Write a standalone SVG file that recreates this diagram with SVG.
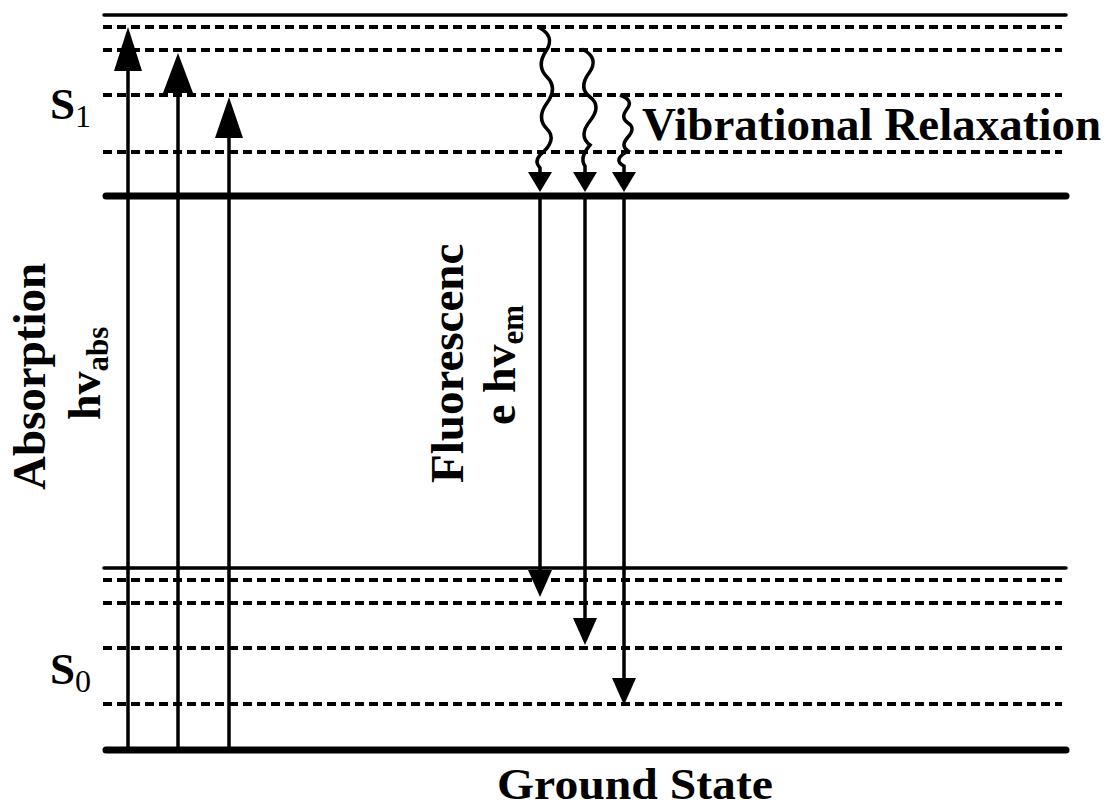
<svg xmlns="http://www.w3.org/2000/svg" width="1108" height="810" viewBox="0 0 1108 810">
<style>
.thin{stroke:#000;stroke-width:3.5;fill:none;stroke-linecap:round}
.thick{stroke:#000;stroke-width:7;fill:none;stroke-linecap:round}
.dash{stroke:#000;stroke-width:4;fill:none;stroke-dasharray:9 5}
.shaft{stroke:#000;stroke-width:3.5;fill:none}
.wave{stroke:#000;stroke-width:3.5;fill:none}
.head{fill:#000;stroke:none}
.lbl{font-family:"Liberation Serif","Times New Roman",serif;font-weight:bold;fill:#000}
.sub{font-family:"Liberation Serif","Times New Roman",serif;font-weight:normal;fill:#000}
</style>
<rect width="1108" height="810" fill="#fff"/>
<g id="S1-levels">
<line class="thin" x1="104" y1="15" x2="1066" y2="15"/>
<line class="dash" x1="103" y1="27" x2="1062" y2="27"/>
<line class="dash" x1="103" y1="50" x2="1062" y2="50"/>
<line class="dash" x1="103" y1="95" x2="1062" y2="95"/>
<line class="dash" x1="103" y1="152" x2="1062" y2="152"/>
<line class="thick" x1="106" y1="196" x2="1066" y2="196"/>
</g>
<g id="S0-levels">
<line class="thin" x1="104" y1="568" x2="1066" y2="568"/>
<line class="dash" x1="103" y1="580" x2="1062" y2="580"/>
<line class="dash" x1="103" y1="603" x2="1062" y2="603"/>
<line class="dash" x1="103" y1="648" x2="1062" y2="648"/>
<line class="dash" x1="103" y1="704" x2="1062" y2="704"/>
<line class="thick" x1="106" y1="750" x2="1066" y2="750"/>
</g>
<g id="connectors">
<line class="shaft" x1="128" y1="750" x2="128" y2="68"/>
<polygon class="head" points="128,27 142,71 114,71"/>
<line class="shaft" x1="178" y1="750" x2="178" y2="90"/>
<polygon class="head" points="178,53 193,93 163,93"/>
<line class="shaft" x1="229" y1="750" x2="229" y2="135"/>
<polygon class="head" points="229,97 243,138 215,138"/>
<path class="wave" d="M538,27 Q556,36 546,51 T547,77 T547,103 T547,129 T540,155 Q534,162 540,168 L540,174"/>
<polygon class="head" points="540,192 528,172 552,172"/>
<path class="wave" d="M582,49 Q600,58 589,73 T590,97 T590,121 T590,145 Q579,158 585,166 L585,174"/>
<polygon class="head" points="585,192 573,172 597,172"/>
<path class="wave" d="M620,95 Q634,100 627,109 T628,123 T628,137 T628,151 Q612,160 624,166 L624,174"/>
<polygon class="head" points="624,192 612,172 636,172"/>
<line class="shaft" x1="540" y1="196" x2="540" y2="575"/>
<polygon class="head" points="540,597 528,570 552,570"/>
<line class="shaft" x1="585" y1="196" x2="585" y2="622"/>
<polygon class="head" points="585,645 573,618 597,618"/>
<line class="shaft" x1="624" y1="196" x2="624" y2="682"/>
<polygon class="head" points="624,705 612,678 636,678"/>
</g>
<g id="label-S1"><text class="lbl" x="50" y="119" font-size="45">S<tspan class="sub" font-size="32" dy="8">1</tspan></text></g>
<g id="label-S0"><text class="lbl" x="50" y="684" font-size="45">S<tspan class="sub" font-size="32" dy="8">0</tspan></text></g>
<g id="label-vib"><text class="lbl" x="642" y="140" font-size="47">Vibrational Relaxation</text></g>
<g id="label-ground"><text class="lbl" x="497" y="799" font-size="44" textLength="276" lengthAdjust="spacingAndGlyphs">Ground State</text></g>
<g id="label-abs">
<text class="lbl" transform="translate(45,490) rotate(-90)" font-size="47">Absorption</text>
<text class="lbl" transform="translate(100,420) rotate(-90)" font-size="46">hv<tspan font-size="31" dy="8">abs</tspan></text>
</g>
<g id="label-fluo">
<text class="lbl" transform="translate(463,483) rotate(-90)" font-size="47">Fluorescenc</text>
<text class="lbl" transform="translate(515,425) rotate(-90)" font-size="46">e hv<tspan font-size="31" dy="8">em</tspan></text>
</g>
</svg>
